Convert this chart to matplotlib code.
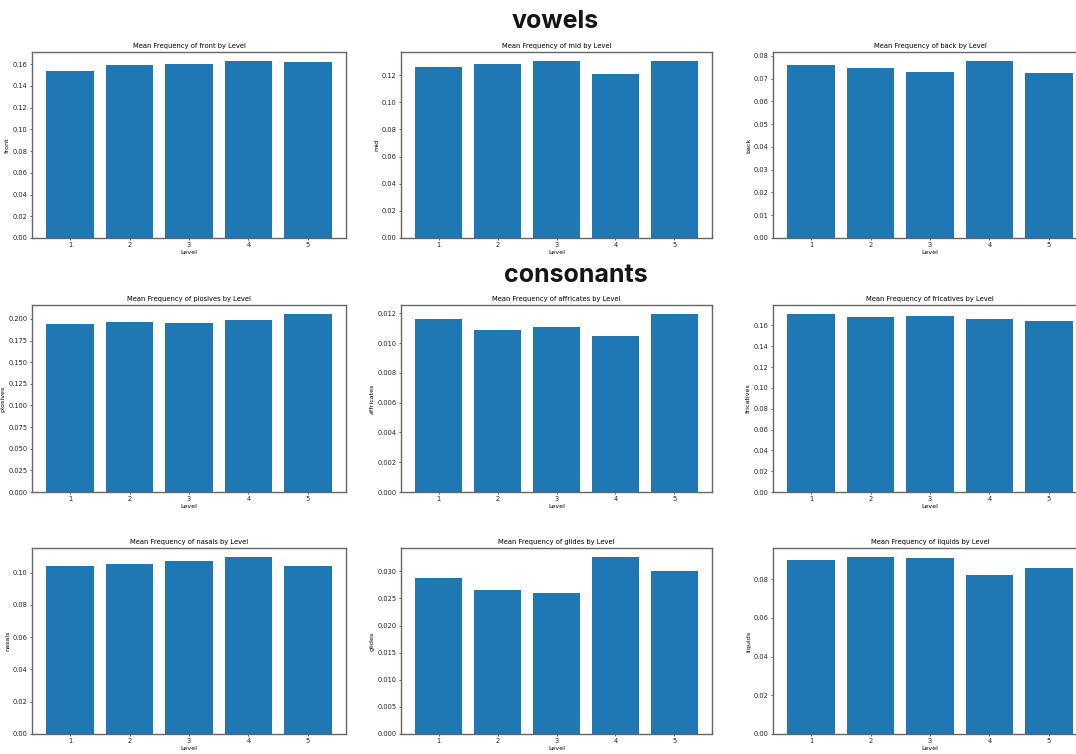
import matplotlib.pyplot as plt
from matplotlib.ticker import MultipleLocator

levels = [1, 2, 3, 4, 5]

front = [0.154, 0.159, 0.160, 0.163, 0.162]
mid = [0.126, 0.128, 0.1306, 0.1208, 0.1306]
back = [0.0762, 0.0747, 0.0731, 0.0778, 0.0725]

plosives = [0.1938, 0.1970, 0.1958, 0.1993, 0.2058]
affricates = [0.01161, 0.01087, 0.01107, 0.01051, 0.01197]
fricatives = [0.1710, 0.1683, 0.1687, 0.1661, 0.1645]

nasals = [0.1043, 0.1052, 0.1072, 0.1097, 0.1039]
glides = [0.02878, 0.02651, 0.02607, 0.03266, 0.03007]
liquids = [0.0901, 0.0915, 0.0907, 0.0819, 0.0860]

W, H = 1076, 754
fig = plt.figure(figsize=(W / 100, H / 100), dpi=100)

# pixel boxes: rows (top, bottom), cols (left, right)
rows = [(52, 238), (305, 492), (548, 734)]
cols = [(32, 346), (401, 712), (773, 1087)]

features = [
    [("front", front), ("mid", mid), ("back", back)],
    [("plosives", plosives), ("affricates", affricates), ("fricatives", fricatives)],
    [("nasals", nasals), ("glides", glides), ("liquids", liquids)],
]
# tick steps as in the original (larger) figure
steps = {"fricatives": 0.02}


def draw_bars(ax, name, vals):
    ax.bar(levels, vals, width=0.8, color="#1f77b4")
    ax.set_title(f"Mean Frequency of {name} by Level", fontsize=4.9, pad=3)
    ax.set_xlabel("Level", fontsize=4.6, labelpad=1)
    ax.set_ylabel(name, fontsize=4.6, labelpad=2)
    ax.set_xticks(levels)
    if name in steps:
        ax.yaxis.set_major_locator(MultipleLocator(steps[name]))
    ax.tick_params(labelsize=4.8, length=1.6, width=0.5, pad=1.5, colors="#222222")
    for s in ax.spines.values():
        s.set_color("#666666")
        s.set_linewidth(1.0)


for r, (top, bottom) in enumerate(rows):
    for c, (left, right) in enumerate(cols):
        ax = fig.add_axes([left / W, 1 - bottom / H, (right - left) / W, (bottom - top) / H])
        name, vals = features[r][c]
        draw_bars(ax, name, vals)

fig.text(555 / W, 1 - 21 / H, "vowels", ha="center", va="center",
         fontsize=18, fontweight="bold", family="Inter", color="#151515")
fig.text(576 / W, 1 - 276 / H, "consonants", ha="center", va="center",
         fontsize=18, fontweight="bold", family="Inter", color="#151515")

fig.savefig("out.png", dpi=100)
